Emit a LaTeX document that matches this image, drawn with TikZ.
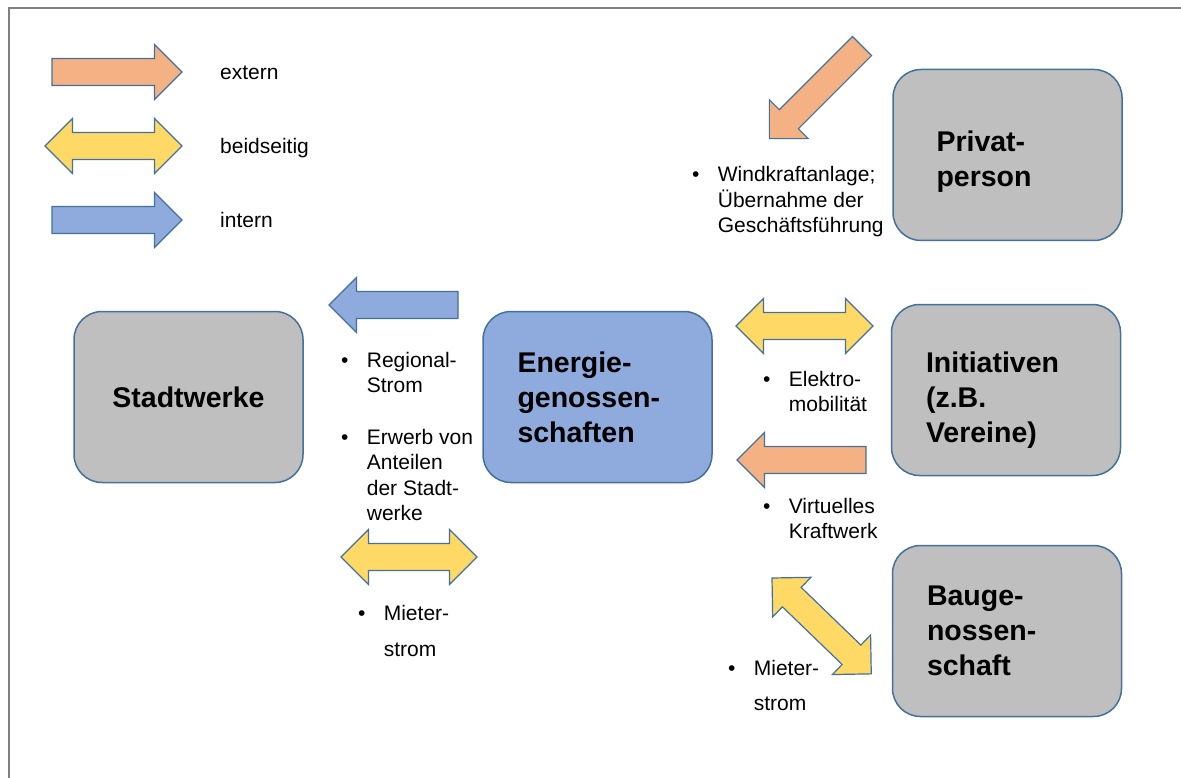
\documentclass[tikz,border=0pt]{standalone}
\usepackage{fontspec}
\setmainfont{Liberation Sans}
\definecolor{orangeton}{HTML}{F4B183}
\definecolor{gelbton}{HTML}{FFD966}
\definecolor{blauton}{HTML}{8FAADC}
\definecolor{grauton}{HTML}{BFBFBF}
\definecolor{randblau}{HTML}{41719C}
\definecolor{rahmengrau}{HTML}{808080}
\newcommand{\kastenschrift}{\fontsize{28.5}{35}\selectfont\bfseries}
\newcommand{\textschrift}{\fontsize{21}{25.5}\selectfont}
\newcommand{\punkt}[1]{\begin{tabular}[t]{@{}l@{\hspace{18.3pt}}l@{}}\textbullet & \begin{tabular}[t]{@{}l@{}}#1\end{tabular}\end{tabular}}
\tikzset{
	kasten/.style={draw=randblau, line width=1.5pt, fill=grauton, rounded corners=28pt,
		minimum width=229pt, minimum height=171pt, text width=160pt, align=left,
		font=\kastenschrift, inner sep=0pt},
	stichwort/.style={anchor=base west, inner sep=0pt, font=\textschrift},
	pfeilrand/.style={draw=randblau, line width=1.2pt, line join=miter},
	pics/einpfeil/.style 2 args={code={
		\draw[pfeilrand, fill=#2] (0,-13.5) -- ({#1-27.5},-13.5) -- ({#1-27.5},-27.5) -- (#1,0)
			-- ({#1-27.5},27.5) -- ({#1-27.5},13.5) -- (0,13.5) -- cycle;}},
	pics/zweipfeil/.style 2 args={code={
		\draw[pfeilrand, fill=#2] (0,0) -- (27.5,-27.5) -- (27.5,-13.5) -- ({#1-27.5},-13.5)
			-- ({#1-27.5},-27.5) -- (#1,0) -- ({#1-27.5},27.5) -- ({#1-27.5},13.5)
			-- (27.5,13.5) -- (27.5,27.5) -- cycle;}}
}
\begin{document}
\begin{tikzpicture}[x=1pt, y=-1pt]
	\useasboundingbox (0,0) rectangle (1181,778);
	\draw[rahmengrau, line width=2.5pt] (9,790) -- (9,8) -- (1190,8);
	% Legende
	\pic at (52,72) {einpfeil={130}{orangeton}};
	\pic at (45,146) {zweipfeil={137}{gelbton}};
	\pic at (52,220) {einpfeil={130}{blauton}};
	\node[stichwort] (extern) at (220,80) {extern};
	\node[stichwort] (beidseitig) at (220,154) {beidseitig};
	\node[stichwort] (intern) at (220,228) {intern};
	% Akteure
	\node[kasten, align=center] (stadtwerke) at (188.5,397) {Stadtwerke};
	\node[kasten, fill=blauton] (energie) at (597.5,397) {Energie-\\genossen-\\schaften};
	\node[kasten, text width=142pt] (privat) at (1007.5,155) {\rule{0pt}{34.5pt}Privat-\\person};
	\node[kasten] (initiativen) at (1006,390) {\rule{0pt}{40.5pt}Initiativen\\(z.B.\\Vereine)};
	\node[kasten] (bauge) at (1007,631) {Bauge-\\nossen-\\schaft};
	% Beziehungen
	\pic[rotate=180] at (458,305) {einpfeil={129}{blauton}};
	\pic at (341,557) {zweipfeil={136}{gelbton}};
	\pic at (736,326) {zweipfeil={137}{gelbton}};
	\pic[rotate=180] at (866,460) {einpfeil={129}{orangeton}};
	\pic[rotate=225] at (862,46) {einpfeil={131}{orangeton}};
	\pic[rotate=-44] at (772,578) {zweipfeil={138}{gelbton}};
	\node[stichwort] (regional) at (341,367) {\punkt{Regional-\\Strom}};
	\node[stichwort] (erwerb) at (341,444) {\punkt{Erwerb von\\Anteilen\\der Stadt-\\werke}};
	\node[stichwort] (mieterlinks) at (358,620) {\punkt{Mieter-\\[10.5pt]strom}};
	\node[stichwort] (elektro) at (763,386) {\punkt{Elektro-\\mobilität}};
	\node[stichwort] (virtuell) at (763,513) {\punkt{Virtuelles\\Kraftwerk}};
	\node[stichwort] (windkraft) at (692,182) {\punkt{Windkraftanlage;\\Übernahme der\\Geschäftsführung}};
	\node[stichwort] (mieterrechts) at (728,675) {\punkt{Mieter-\\[9.5pt]strom}};
\end{tikzpicture}
\end{document}
